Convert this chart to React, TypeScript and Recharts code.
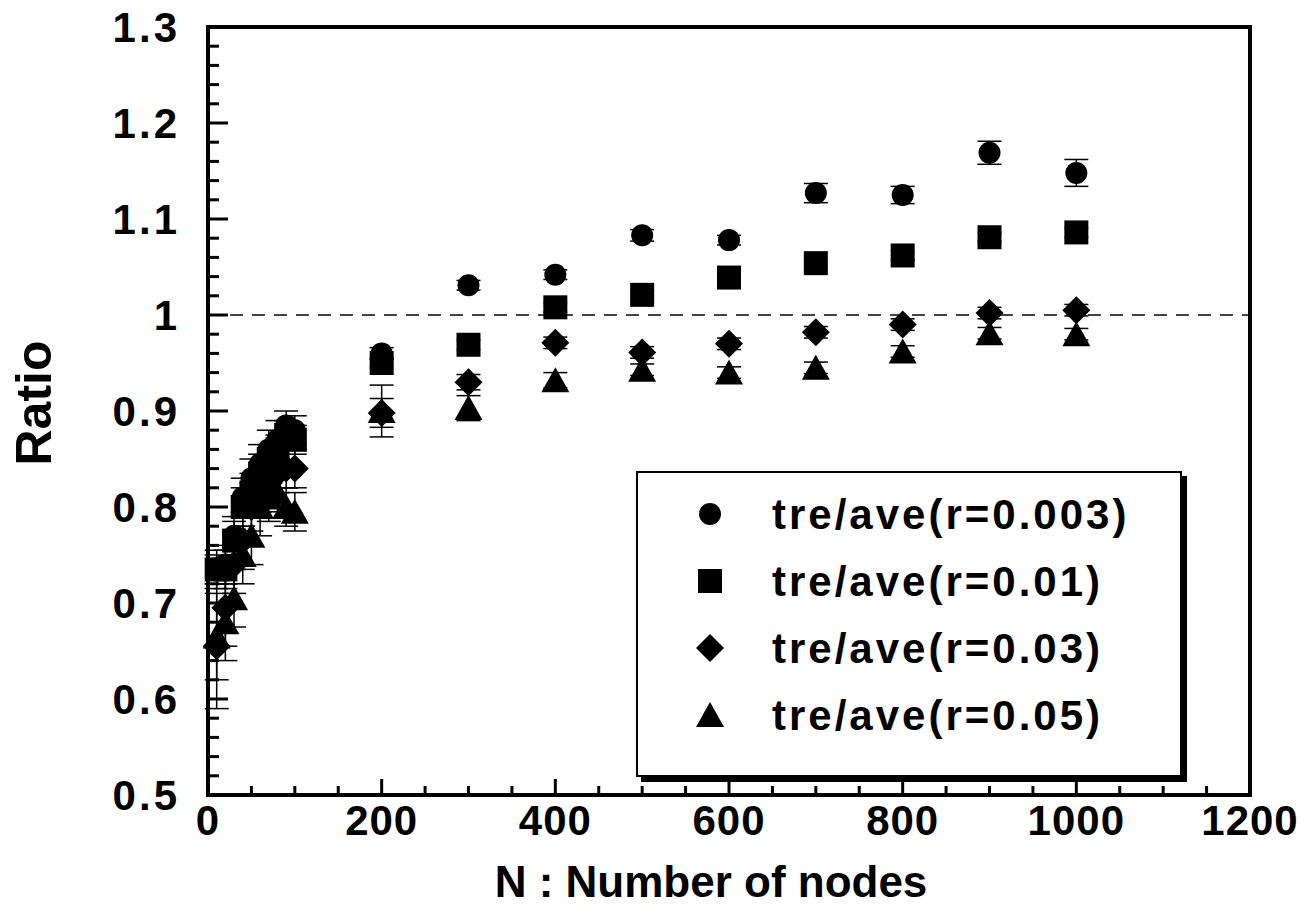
import React from "react";
import {
  ScatterChart,
  Scatter,
  XAxis,
  YAxis,
  ReferenceLine,
  ErrorBar,
  Label,
} from "recharts";

// number of nodes (x)
const nodes = [10, 20, 30, 40, 50, 60, 70, 80, 90, 100, 200, 300, 400, 500, 600, 700, 800, 900, 1000];

// ratio values
const r0003 = [0.735, 0.74, 0.77, 0.81, 0.83, 0.845, 0.86, 0.87, 0.885, 0.88, 0.96, 1.031, 1.042, 1.083, 1.078, 1.127, 1.125, 1.169, 1.148];
const r001 = [0.735, 0.735, 0.765, 0.8, 0.815, 0.835, 0.85, 0.86, 0.875, 0.87, 0.95, 0.969, 1.008, 1.021, 1.039, 1.054, 1.062, 1.081, 1.086];
const r003 = [0.655, 0.695, 0.74, 0.765, 0.8, 0.815, 0.825, 0.835, 0.84, 0.84, 0.898, 0.93, 0.971, 0.961, 0.97, 0.982, 0.99, 1.002, 1.005];
const r005 = [0.665, 0.68, 0.705, 0.75, 0.77, 0.8, 0.81, 0.815, 0.8, 0.795, 0.9, 0.903, 0.932, 0.943, 0.94, 0.945, 0.962, 0.981, 0.98];

// error bars
const e0003 = [0.015, 0.02, 0.02, 0.02, 0.02, 0.02, 0.02, 0.02, 0.015, 0.015, 0.006, 0.005, 0.005, 0.006, 0.005, 0.01, 0.009, 0.012, 0.014];
const e001 = [0.02, 0.02, 0.02, 0.02, 0.02, 0.02, 0.015, 0.015, 0.015, 0.015, 0.005, 0.005, 0.005, 0.005, 0.005, 0.005, 0.005, 0.005, 0.005];
const e003 = [0.065, 0.04, 0.03, 0.03, 0.025, 0.02, 0.02, 0.02, 0.02, 0.02, 0.015, 0.008, 0.006, 0.006, 0.006, 0.006, 0.006, 0.006, 0.006];
const e005 = [0.045, 0.04, 0.03, 0.03, 0.03, 0.03, 0.025, 0.02, 0.02, 0.02, 0.027, 0.013, 0.008, 0.006, 0.006, 0.006, 0.006, 0.006, 0.006];

const xMajor = [0, 200, 400, 600, 800, 1000, 1200];
const yMajor = [0.5, 0.6, 0.7, 0.8, 0.9, 1, 1.1, 1.2, 1.3];

const xTicks: number[] = [];
for (let i = 0; i <= 24; i++) xTicks.push(i * 50);
const yTicks: number[] = [];
for (let i = 0; i <= 40; i++) yTicks.push(Math.round((0.5 + i * 0.02) * 100) / 100);

const FONT = "'Liberation Sans', Arial, sans-serif";

const toRows = (vals: number[], errs: number[]) =>
  nodes.map((n, i) => ({ n, v: vals[i], err: errs[i] }));

const isMajorY = (v: number) => yMajor.some((m) => Math.abs(m - v) < 1e-6);

function marker(kind: string, cx: number, cy: number) {
  if (kind === "circle") return <circle cx={cx} cy={cy} r={11} fill="#000" />;
  if (kind === "square") return <rect x={cx - 12} y={cy - 12} width={24} height={24} fill="#000" />;
  if (kind === "diamond")
    return <polygon points={`${cx},${cy - 14} ${cx + 14},${cy} ${cx},${cy + 14} ${cx - 14},${cy}`} fill="#000" />;
  return <polygon points={`${cx},${cy - 13} ${cx + 14},${cy + 12} ${cx - 14},${cy + 12}`} fill="#000" />;
}

const series = [
  { name: "tre/ave(r=0.003)", kind: "circle", data: toRows(r0003, e0003) },
  { name: "tre/ave(r=0.01)", kind: "square", data: toRows(r001, e001) },
  { name: "tre/ave(r=0.03)", kind: "diamond", data: toRows(r003, e003) },
  { name: "tre/ave(r=0.05)", kind: "triangle", data: toRows(r005, e005) },
];

const BottomTick = (props: any) => {
  const { x, y, payload } = props;
  const major = xMajor.includes(payload.value);
  return (
    <g>
      <line x1={x} x2={x} y1={y} y2={y - (major ? 16 : 9)} stroke="#000" strokeWidth={3} />
      {major && (
        <text x={x} y={y + 40} textAnchor="middle" fontSize={42} fontWeight="bold" fontFamily={FONT} letterSpacing={1} fill="#000">
          {payload.value}
        </text>
      )}
    </g>
  );
};

const TopTick = (props: any) => {
  const { x, y, payload } = props;
  const major = xMajor.includes(payload.value);
  return <line x1={x} x2={x} y1={y} y2={y + (major ? 16 : 9)} stroke="#000" strokeWidth={3} />;
};

const LeftTick = (props: any) => {
  const { x, y, payload } = props;
  const major = isMajorY(payload.value);
  return (
    <g>
      <line x1={x} x2={x + (major ? 20 : 11)} y1={y} y2={y} stroke="#000" strokeWidth={3} />
      {major && (
        <text x={x - 28} y={y + 15} textAnchor="end" fontSize={42} fontWeight="bold" fontFamily={FONT} letterSpacing={3} fill="#000">
          {String(payload.value)}
        </text>
      )}
    </g>
  );
};

const RightTick = (props: any) => {
  const { x, y, payload } = props;
  const major = isMajorY(payload.value);
  return <line x1={x} x2={x - (major ? 20 : 11)} y1={y} y2={y} stroke="#000" strokeWidth={3} />;
};

const LegendBox = () => (
  <div
    style={{
      position: "absolute",
      left: 636,
      top: 471,
      width: 546,
      height: 306,
      border: "2px solid #000",
      boxShadow: "5px 5px 0 #000",
      background: "#fff",
      boxSizing: "border-box",
      paddingTop: 8,
    }}
  >
    {series.map((s) => (
      <div key={s.name} style={{ height: 67, display: "flex", alignItems: "center" }}>
        <svg width={134} height={67}>
          {marker(s.kind, 72, 33)}
        </svg>
        <span style={{ fontFamily: FONT, fontWeight: "bold", fontSize: 42, letterSpacing: 3, color: "#000" }}>
          {s.name}
        </span>
      </div>
    ))}
  </div>
);

const RatioLabel = (props: any) => {
  const vb = props.viewBox || {};
  const cx = (vb.x || 0) + 34;
  const cy = (vb.y || 0) + (vb.height || 0) / 2 - 8;
  return (
    <text x={cx} y={cy} transform={`rotate(-90, ${cx}, ${cy})`} textAnchor="middle" dominantBaseline="central" fontSize={50} fontWeight="bold" fontFamily={FONT} fill="#000">
      Ratio
    </text>
  );
};

export default function App() {
  return (
    <div style={{ position: "absolute", left: 0, top: 0, width: 1306, height: 913, background: "#fff" }}>
      <ScatterChart width={1306} height={913} margin={{ top: 0, right: 0, bottom: 0, left: 0 }}>
        <XAxis
          type="number"
          dataKey="n"
          domain={[0, 1200]}
          ticks={xTicks}
          interval={0}
          height={118}
          tickSize={0}
          tickMargin={0}
          tick={BottomTick}
          axisLine={{ stroke: "#000", strokeWidth: 4, strokeLinecap: "square" }}
        >
          <Label value="N : Number of nodes" position="insideBottom" offset={16} dx={-18} fontSize={44} fontWeight="bold" fontFamily={FONT} fill="#000" />
        </XAxis>
        <XAxis
          xAxisId="top"
          orientation="top"
          type="number"
          domain={[0, 1200]}
          ticks={xTicks}
          interval={0}
          height={27}
          tickSize={0}
          tickMargin={0}
          tick={TopTick}
          axisLine={{ stroke: "#000", strokeWidth: 4, strokeLinecap: "square" }}
        />
        <YAxis
          type="number"
          dataKey="v"
          domain={[0.5, 1.3]}
          ticks={yTicks}
          interval={0}
          width={208}
          tickSize={0}
          tickMargin={0}
          tick={LeftTick}
          axisLine={{ stroke: "#000", strokeWidth: 4, strokeLinecap: "square" }}
        >
          <Label content={RatioLabel} />
        </YAxis>
        <YAxis
          yAxisId="right"
          orientation="right"
          type="number"
          domain={[0.5, 1.3]}
          ticks={yTicks}
          interval={0}
          width={56}
          tickSize={0}
          tickMargin={0}
          tick={RightTick}
          axisLine={{ stroke: "#000", strokeWidth: 4, strokeLinecap: "square" }}
        />
        <ReferenceLine y={1} stroke="#444" strokeWidth={2} strokeDasharray="13 9" />
        {series.map((s) => (
          <Scatter
            key={s.name}
            name={s.name}
            data={s.data}
            isAnimationActive={false}
            shape={(p: any) => marker(s.kind, p.cx, p.cy)}
          >
            <ErrorBar dataKey="err" direction="y" width={12} stroke="#000" strokeWidth={1.5} />
          </Scatter>
        ))}
      </ScatterChart>
      <LegendBox />
    </div>
  );
}
